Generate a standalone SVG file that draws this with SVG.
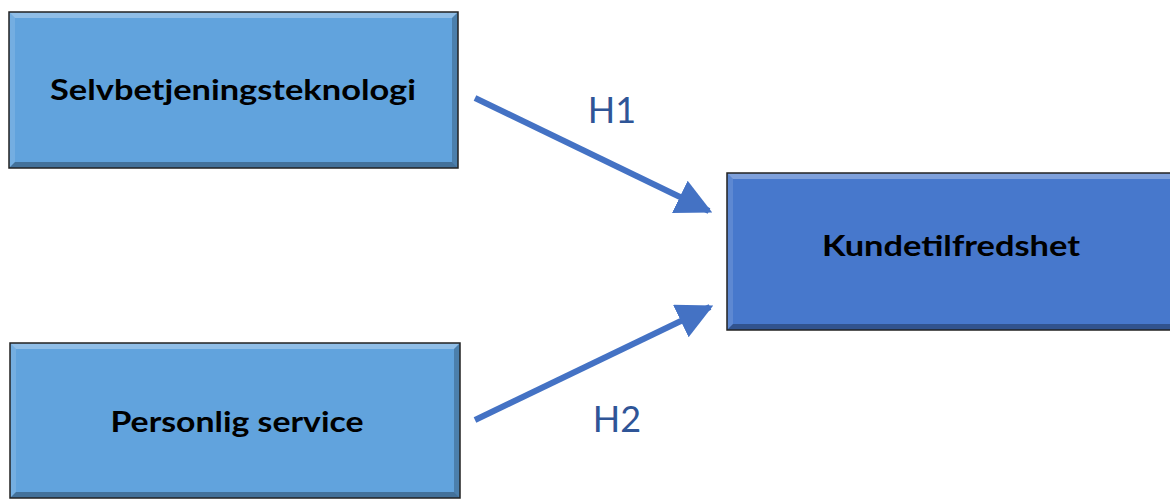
<svg xmlns="http://www.w3.org/2000/svg" width="1170" height="502" viewBox="0 0 1170 502">
<style>
.lbl{font-family:Lato,"Open Sans","Liberation Sans",sans-serif;font-weight:bold;font-size:29px;fill:#000;text-anchor:middle}
.h{font-family:Lato,"Liberation Sans",Arial,sans-serif;font-size:36px;fill:#2F5597;text-anchor:middle}
.edge{stroke:#4472C4;stroke-width:6;fill:none}
.border{fill:none;stroke:#222;stroke-width:1.5}
.top{fill:#fff;opacity:0.3}
.left{fill:#fff;opacity:0.12}
.bot{fill:#000;opacity:0.3}
.right{fill:#000;opacity:0.22}
</style>
<defs>
<marker id="ah" viewBox="0 0 10 10" refX="9" refY="5" markerWidth="6" markerHeight="6" markerUnits="strokeWidth" orient="auto">
<path d="M0,0 L10,5 L0,10 Z" fill="#4472C4"/>
</marker>
</defs>
<rect width="1170" height="502" fill="#fff"/>
<g id="node-selv">
<rect x="9" y="12" width="449" height="156" fill="#61A3DD"/>
<polygon class="top" points="9,12 458,12 452,18 15,18"/>
<polygon class="left" points="9,12 15,18 15,162 9,168"/>
<polygon class="bot" points="9,168 15,162 452,162 458,168"/>
<polygon class="right" points="458,12 458,168 452,162 452,18"/>
<rect class="border" x="9" y="12" width="449" height="156"/>
<text class="lbl" x="233" y="100" textLength="366" lengthAdjust="spacingAndGlyphs">Selvbetjeningsteknologi</text>
</g>
<g id="node-kunde">
<rect x="727" y="173" width="450" height="157" fill="#4778CC"/>
<polygon class="top" points="727,173 1170,173 1170,179 733,179"/>
<polygon class="left" points="727,173 733,179 733,324 727,330"/>
<polygon class="bot" points="727,330 733,324 1170,324 1170,330"/>
<rect class="border" x="727" y="173" width="450" height="157"/>
<text class="lbl" x="951" y="256" textLength="258" lengthAdjust="spacingAndGlyphs">Kundetilfredshet</text>
</g>
<g id="node-pers">
<rect x="10" y="343" width="450" height="155" fill="#61A3DD"/>
<polygon class="top" points="10,343 460,343 454,349 16,349"/>
<polygon class="left" points="10,343 16,349 16,492 10,498"/>
<polygon class="bot" points="10,498 16,492 454,492 460,498"/>
<polygon class="right" points="460,343 460,498 454,492 454,349"/>
<rect class="border" x="10" y="343" width="450" height="155"/>
<text class="lbl" x="237" y="432" textLength="253" lengthAdjust="spacingAndGlyphs">Personlig service</text>
</g>
<g id="connectors">
<line class="edge" x1="475" y1="98" x2="709" y2="211" marker-end="url(#ah)"/>
<line class="edge" x1="475" y1="420" x2="710" y2="307" marker-end="url(#ah)"/>
<text class="h" x="612" y="123">H1</text>
<text class="h" x="617" y="432">H2</text>
</g>
</svg>
